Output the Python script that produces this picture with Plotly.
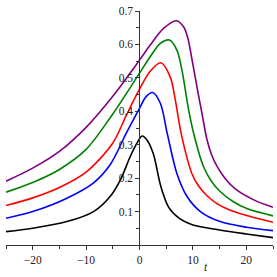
import plotly.graph_objects as go

# Data
t_black = [-25, -20, -13.6, -8.6, -5.5, -3.6, -1.75, -0.5, 0.5, 1.4, 2.6, 4.0, 5.5, 7.6, 10, 15, 20, 25]
y_black = [0.040, 0.050, 0.070, 0.100, 0.145, 0.194, 0.264, 0.304, 0.326, 0.314, 0.272, 0.175, 0.112, 0.078, 0.060, 0.045, 0.033, 0.022]

t_blue = [-25, -20, -13.6, -8.6, -5.5, -2.4, 0, 1.2, 2.45, 3.9, 5.2, 7.0, 8.9, 11.4, 15.1, 20.1, 25]
y_blue = [0.080, 0.100, 0.140, 0.186, 0.240, 0.337, 0.409, 0.443, 0.456, 0.424, 0.333, 0.214, 0.145, 0.100, 0.070, 0.053, 0.043]

t_red = [-25, -20, -15, -10, -5, -2.5, 0, 2.0, 4.0, 5.75, 6.7, 7.85, 9.8, 11.0, 12.6, 14.5, 17.0, 20.1, 25]
y_red = [0.118, 0.141, 0.172, 0.218, 0.305, 0.387, 0.466, 0.520, 0.545, 0.503, 0.434, 0.330, 0.214, 0.178, 0.148, 0.124, 0.104, 0.088, 0.068]

t_green = [-25, -20, -15, -10, -5, 0, 2.0, 3.9, 5.6, 7.0, 7.95, 9.2, 10.2, 12.0, 13.5, 15.1, 17.5, 20.1, 25]
y_green = [0.158, 0.187, 0.226, 0.286, 0.392, 0.514, 0.563, 0.603, 0.613, 0.583, 0.523, 0.404, 0.330, 0.234, 0.190, 0.160, 0.130, 0.109, 0.087]

t_purple = [-25, -20, -15, -10, -5, 0, 2.0, 4.5, 6.9, 8.25, 9.0, 10.0, 11.0, 11.7, 12.6, 13.5, 14.5, 16.0, 18.0, 21.4, 25]
y_purple = [0.191, 0.230, 0.280, 0.352, 0.445, 0.553, 0.598, 0.648, 0.671, 0.653, 0.622, 0.540, 0.452, 0.394, 0.318, 0.270, 0.236, 0.200, 0.167, 0.135, 0.113]

series = [
    (t_black, y_black, "#000000"),
    (t_blue, y_blue, "#0000ff"),
    (t_red, y_red, "#ff0000"),
    (t_green, y_green, "#008000"),
    (t_purple, y_purple, "#800080"),
]

x_ticks = [-20, -10, 0, 10, 20]
y_ticks = [0.1, 0.2, 0.3, 0.4, 0.5, 0.6, 0.7]

fig = go.Figure()
for tx, ty, col in series:
    fig.add_trace(go.Scatter(x=tx, y=ty, mode="lines",
                             line=dict(color=col, width=1.6, shape="spline", smoothing=0.9),
                             showlegend=False, hoverinfo="skip"))

font = dict(family="Liberation Serif, Times New Roman, serif", size=11.5, color="#222222")

fig.update_layout(
    template="none",
    width=277, height=277,
    margin=dict(l=6, r=4, t=11, b=32),
    paper_bgcolor="white", plot_bgcolor="white",
    font=font,
    xaxis=dict(range=[-25, 25], tickvals=x_ticks, ticktext=[f"{v}".replace("-", "\u2212") for v in x_ticks],
               showgrid=False, zeroline=False, showline=True, linecolor="#333333", linewidth=1,
               ticks="outside", ticklen=4, tickcolor="#333333", automargin=False,
               minor=dict(tickvals=[-25, -15, -5, 5, 15, 25], ticks="outside", ticklen=3, tickcolor="#333333"),
               tickfont=font, anchor="y"),
    yaxis=dict(range=[0, 0.7], tickvals=y_ticks, ticktext=[f"{v:.1f}" for v in y_ticks],
               showgrid=False, zeroline=False, showline=True, linecolor="#333333", linewidth=1,
               ticks="outside", ticklen=4, tickcolor="#333333", automargin=False,
               minor=dict(tickvals=[0.05, 0.15, 0.25, 0.35, 0.45, 0.55, 0.65], ticks="outside", ticklen=3, tickcolor="#333333"),
               tickfont=font, anchor="free", position=(139.3 - 6) / (273 - 6)),
)

fig.add_annotation(text="<i>t</i>", x=12.4, y=0, xref="x", yref="y", yshift=-22,
                   showarrow=False, font=dict(family="Liberation Serif, serif", size=11.5, color="#222222"))

fig.write_html("out.html", config={"displayModeBar": False},
               post_script="document.body.style.margin='0';")
